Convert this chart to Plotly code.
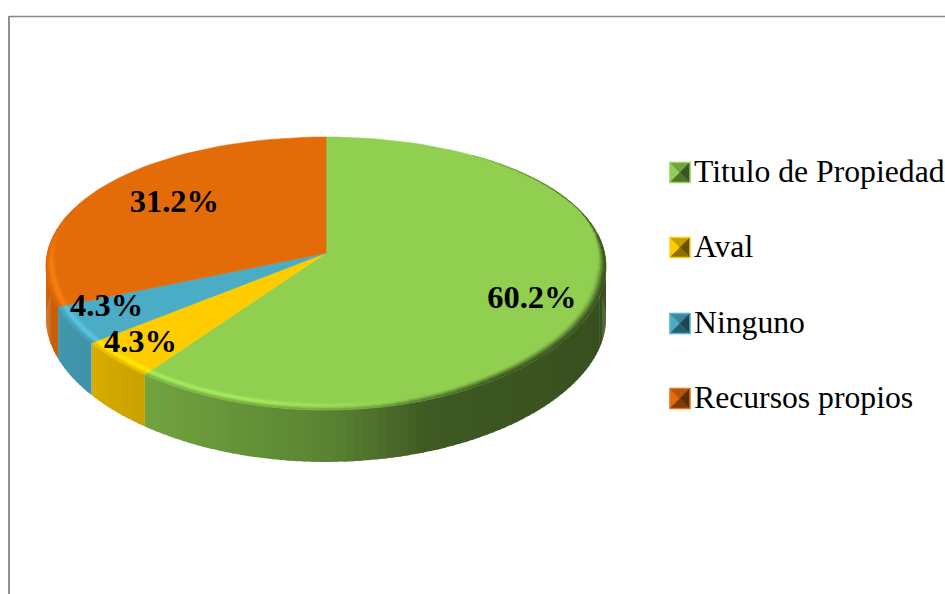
import math
import plotly.graph_objects as go

categories = ["Titulo de Propiedad", "Aval", "Ninguno", "Recursos propios"]
values = [60.2, 4.3, 4.3, 31.2]
colors = [(144, 207, 80), (255, 204, 0), (75, 172, 198), (227, 108, 9)]
label_radius = [0.76, 0.89, 0.87, 0.68]
label_shift_y = [14, -3, -7, -1]

W, H = 945, 594
CX, CY = 326.0, 253.0
A, B, KX, KY = 278.6, 133.4, 0.10, 0.15
DEPTH = 52.0
SIDE_STEP = 1.5
RIM_STEP = 2.5
OVERLAP = 0.4
FONT = "Liberation Serif"


def proj(angle_deg, r=1.0):
    a = math.radians(angle_deg)
    u, v = r * math.sin(a), r * math.cos(a)
    return CX + A * u / (1 + KX * v), CY - B * v / (1 + KY * v)


def rgb(c):
    return "rgb(%d,%d,%d)" % tuple(max(0, min(255, round(x))) for x in c)


def mul(c, f):
    return tuple(x * f for x in c)


def mix(c, d, t):
    return tuple(a + (b - a) * t for a, b in zip(c, d))


def clamp(x):
    return max(0.0, min(1.0, x))


def smooth(t):
    t = clamp(t)
    return t * t * (3 - 2 * t)


def side_factor(x):
    pts = [(40, 0.90), (143, 0.79), (330, 0.63), (430, 0.43), (620, 0.38)]
    for (x0, f0), (x1, f1) in zip(pts, pts[1:]):
        if x <= x1:
            return f0 + (f1 - f0) * max(0, x - x0) / (x1 - x0)
    return pts[-1][1]


fig = go.Figure()


def poly(xs, ys, color, lw=0.6):
    fig.add_trace(go.Scatter(
        x=list(xs) + [xs[0]], y=list(ys) + [ys[0]], mode="lines", fill="toself",
        fillcolor=color, line=dict(color=color, width=lw),
        hoverinfo="skip", showlegend=False))


total = sum(values)
spans = []
start = 0.0
for val in values:
    end = start + val / total * 360
    spans.append((start, end))
    start = end


def strips(a0, a1, step):
    n = max(1, math.ceil((a1 - a0) / step))
    d = (a1 - a0) / n
    return [(a0 + i * d, a0 + (i + 1) * d) for i in range(n)]


# side wall
for (a0, a1), col in zip(spans, colors):
    for s0, s1 in strips(a0, a1, SIDE_STEP):
        mid = (s0 + s1) / 2
        if math.cos(math.radians(mid)) > 0.35:
            continue
        x0, y0 = proj(s0)
        x1, y1 = proj(min(s1 + OVERLAP, a1))
        c = mul(col, side_factor((x0 + x1) / 2))
        poly([x0, x1, x1, x0], [y0, y1, y1 + DEPTH, y0 + DEPTH], rgb(c), lw=0)

# top faces
for (a0, a1), col in zip(spans, colors):
    pts = [proj(s0) for s0, _ in strips(a0, a1, RIM_STEP)] + [proj(a1)]
    poly([CX] + [p[0] for p in pts], [CY] + [p[1] for p in pts], rgb(col))

# bevelled rim
N_RINGS = 5
for (a0, a1), col in zip(spans, colors):
    hi = tuple(min(255, x * 1.12 + 8) for x in col)
    for s0, s1 in strips(a0, a1, RIM_STEP):
        mid = (s0 + s1) / 2
        v = math.cos(math.radians(mid))
        xm, _ = proj(mid)
        front = clamp((0.3 - v) / 0.5)
        dark = clamp((xm - 380) / 120)
        width = 0.006 + 0.032 * front
        if v > 0.3 and xm < 470:
            continue
        light = clamp((410 - xm) / 160) * clamp((0.25 - v) / 0.3)
        side_col = mul(col, side_factor(xm))
        for i in range(N_RINGS):
            t0, t1 = i / N_RINGS, (i + 1) / N_RINGS
            tm = (t0 + t1) / 2
            bump = math.sin(math.pi * clamp(tm / 0.8))
            c = mix(col, hi, 0.85 * light * bump)
            fade_start = 0.55 * (1 - dark)
            edge_amt = smooth((tm - fade_start) / (1 - fade_start))
            if v > 0.3:
                edge_amt *= 0.7 * clamp((xm - 470) / 90)
            elif dark < 0.5:
                edge_amt *= 0.1 + 0.9 * clamp(-v / 0.4)
            c = mix(c, side_col, edge_amt * (0.55 + 0.45 * dark))
            r0, r1 = 1 - width * (1 - t0), 1 - width * (1 - t1)
            p0, p1 = proj(s0, r0), proj(s1, r0)
            p2, p3 = proj(s1, r1), proj(s0, r1)
            poly([p0[0], p1[0], p2[0], p3[0]], [p0[1], p1[1], p2[1], p3[1]], rgb(c))

# data labels
lx, ly, lt = [], [], []
for (a0, a1), val, r, dy in zip(spans, values, label_radius, label_shift_y):
    x, y = proj((a0 + a1) / 2, r)
    lx.append(x)
    ly.append(y + dy)
    lt.append("<b>%.1f%%</b>" % val)
fig.add_trace(go.Scatter(
    x=lx, y=ly, text=lt, mode="text", textposition="middle center",
    textfont=dict(family=FONT, size=32.5, color="black"),
    hoverinfo="skip", showlegend=False, cliponaxis=False))

# legend
LEG_X0, LEG_X1 = 669.5, 690.5
LEG_Y = [172.5, 247.5, 323.5, 398.5]
TEXT_SHIFT = 2
HALF = 10.5
INSET = 1.5
for name, col, yc in zip(categories, colors, LEG_Y):
    x0, x1 = LEG_X0, LEG_X1
    y0, y1 = yc - HALF, yc + HALF
    poly([x0, x1, x1, x0], [y0, y0, y1, y1], rgb(mix(col, (255, 255, 255), 0.1)))
    ix0, ix1, iy0, iy1 = x0 + INSET, x1 - INSET, y0 + INSET, y1 - INSET
    mx = (x0 + x1) / 2
    poly([ix0, mx, ix0], [iy0, yc, iy1], rgb(col))
    poly([ix0, ix1, mx], [iy0, iy0, yc], rgb(mul(col, 0.78)))
    poly([ix1, ix1, mx], [iy0, iy1, yc], rgb(mul(col, 0.4)))
    poly([ix0, ix1, mx], [iy1, iy1, yc], rgb(mul(col, 0.55)))
fig.add_trace(go.Scatter(
    x=[694] * len(categories), y=[y + TEXT_SHIFT for y in LEG_Y], text=categories, mode="text",
    textposition="middle right", textfont=dict(family=FONT, size=31.7, color="black"),
    hoverinfo="skip", showlegend=False, cliponaxis=False))

# chart frame
frame_color = "#868686"
fig.update_layout(
    width=W, height=H, margin=dict(l=0, r=0, t=0, b=0), autosize=False,
    paper_bgcolor="white", plot_bgcolor="white", showlegend=False,
    xaxis=dict(range=[0, W], visible=False, fixedrange=True),
    yaxis=dict(range=[H, 0], visible=False, fixedrange=True),
    shapes=[
        dict(type="line", xref="x", yref="y", x0=9, x1=W, y0=16.5, y1=16.5,
             line=dict(color=frame_color, width=1.3)),
        dict(type="line", xref="x", yref="y", x0=9, x1=9, y0=16, y1=H,
             line=dict(color=frame_color, width=1.8)),
    ],
)
fig.write_html("out.html", config=dict(displayModeBar=False),
               post_script="document.body.style.margin='0';document.body.style.overflow='hidden';")
